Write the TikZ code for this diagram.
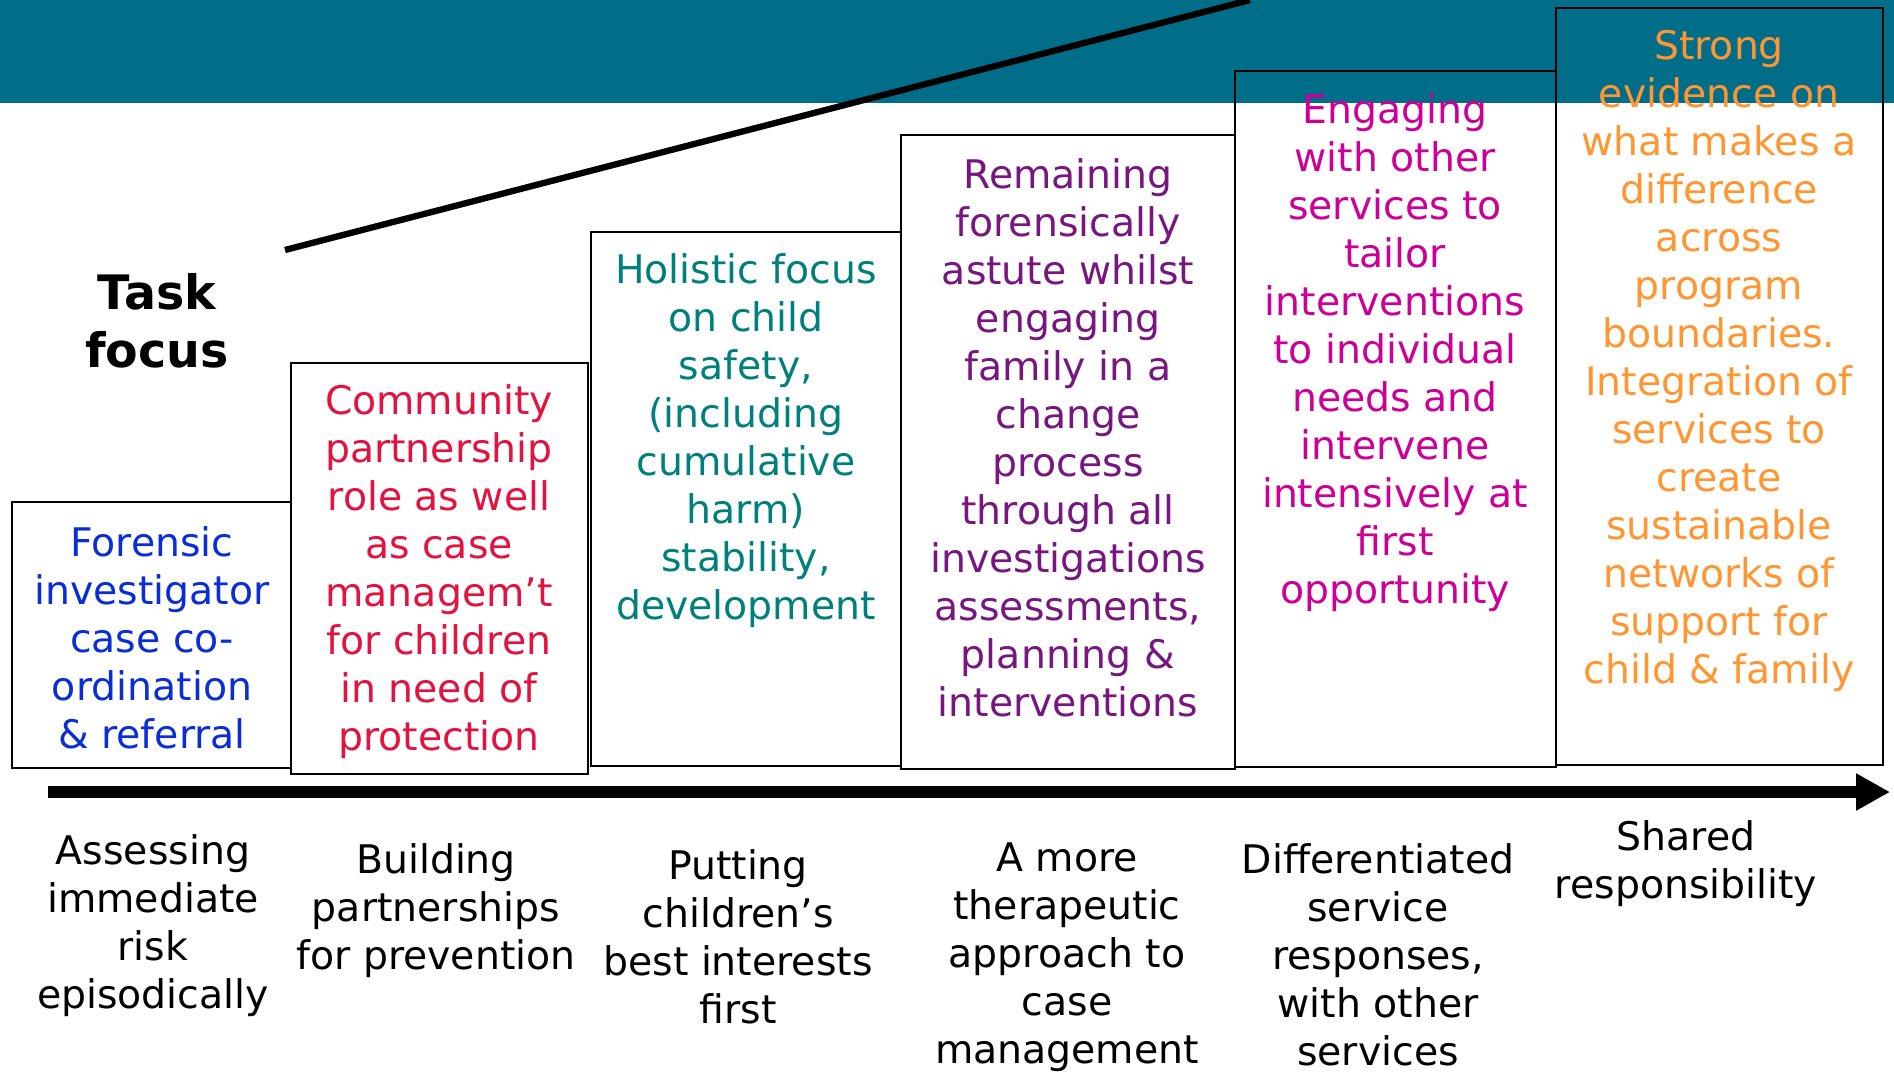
\documentclass[tikz,border=0pt]{standalone}
\usepackage{fontspec}
\setmainfont{DejaVu Sans}
\usepackage{tikz}
\usetikzlibrary{arrows.meta}

\definecolor{bandteal}{RGB}{0,110,137}
\definecolor{fblue}{RGB}{10,45,215}
\definecolor{fred}{RGB}{228,18,62}
\definecolor{fteal}{RGB}{0,128,124}
\definecolor{fpurple}{RGB}{120,22,128}
\definecolor{fmagenta}{RGB}{204,0,150}
\definecolor{forange}{RGB}{255,150,50}

\tikzset{
	stagebox/.style={draw=black, line width=0.8pt},
	boxtext/.style={align=center, font=\fontsize{11.2}{13.65}\selectfont},
	steplabel/.style={align=center, text=black, font=\fontsize{11.2}{13.65}\selectfont},
}

\begin{document}
\begin{tikzpicture}[x=0.01cm,y=-0.01cm]
				\useasboundingbox (0,0) rectangle (1894,1072);
				% top band
				\fill[bandteal] (0,0) rectangle (1894,103);
				
				% rising line
				\coordinate (R0) at (285,250);
				\coordinate (R1) at (1250,0);
				\draw[line width=1.8pt] (R0)--(R1);
				
				% stage boxes
				\foreach \n/\l/\t/\r/\b in
				{A/12/502/291/768, B/291/363/588/774, C/591/232/901/766,
				 D/901/135/1235/769, E/1235/71/1556/767, F/1556/8/1883/765}{
					\coordinate (\n1) at (\l,\t);
					\coordinate (\n2) at (\r,\b);
					\draw[stagebox] (\n1) rectangle (\n2);
				}
				
				\node[font=\bfseries\fontsize{13.5}{16.5}\selectfont, align=center] (task) at (157,321) {Task\\focus};
				
				% box texts
				\node[boxtext, text=fblue] (tA) at (152,638) {Forensic\\investigator\\case co-\\ordination\\\& referral};
				\node[boxtext, text=fred] (tB) at (439,572) {Community\\partnership\\role as well\\as case\\managem't\\for children\\in need of\\protection};
				\node[boxtext, text=fteal] (tC) at (746,441) {Holistic focus\\on child\\safety,\\(including\\cumulative\\harm)\\stability,\\development};
				\node[boxtext, text=fpurple] (tD) at (1068,438) {Remaining\\forensically\\astute whilst\\engaging\\family in a\\change\\process\\through all\\investigations\\assessments,\\planning \&\\interventions};
				\node[boxtext, text=fmagenta] (tE) at (1395,353) {Engaging\\with other\\services to\\tailor\\interventions\\to individual\\needs and\\intervene\\intensively at\\first\\opportunity};
				\node[boxtext, text=forange] (tF) at (1719,361) {Strong\\evidence on\\what makes a\\difference\\across\\program\\boundaries.\\Integration of\\services to\\create\\sustainable\\networks of\\support for\\child \& family};
				
				% time axis
				\coordinate (S) at (48,792);
				\coordinate (T) at (1890,792);
				\draw[line width=3.4pt, -{Triangle[length=0.34cm,width=0.35cm]}] (S)--(T);
				
				% stage labels
				\node[steplabel] (sA) at (153,926) {Assessing\\immediate\\risk\\episodically};
				\node[steplabel] (sB) at (436,911) {Building\\partnerships\\for prevention};
				\node[steplabel] (sC) at (738,937) {Putting\\children's\\best interests\\first};
				\node[steplabel] (sD) at (1067,957) {A more\\therapeutic\\approach to\\case\\management};
				\node[steplabel] (sE) at (1378,955) {Differentiated\\service\\responses,\\with other\\services};
				\node[steplabel] (sF) at (1686,864) {Shared\\responsibility};
			\end{tikzpicture}
\end{document}
